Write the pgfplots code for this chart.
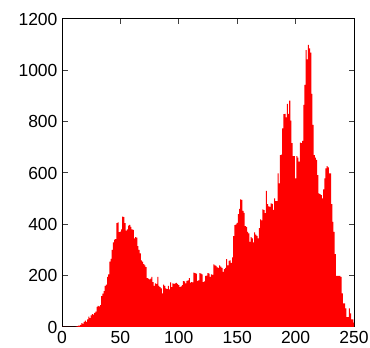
\documentclass[border=0pt]{standalone}
\usepackage{pgfplots}
\pgfplotsset{compat=1.18}
\usepackage{pgfplotstable}
\usepackage{fontspec}
\setmainfont{Liberation Sans}
\pgfplotstableread{
x y
0 0
1 0
2 0
3 0
4 0
5 0
6 0
7 0
8 0
9 0
10 0
11 0
12 1
13 2
14 5
15 5
16 8
17 15
18 12
19 20
20 25
21 20
22 30
23 40
24 35
25 45
26 50
27 48
28 55
29 60
30 78
31 82
32 80
33 85
34 120
35 130
36 140
37 160
38 165
39 195
40 205
41 255
42 265
43 300
44 330
45 340
46 342
47 405
48 408
49 370
50 372
51 380
52 430
53 428
54 405
55 375
56 380
57 395
58 398
59 390
60 380
61 378
62 345
63 350
64 348
65 315
66 300
67 287
68 260
69 255
70 245
71 240
72 233
73 190
74 188
75 186
76 188
77 195
78 175
79 160
80 170
81 168
82 195
83 160
84 155
85 150
86 131
87 165
88 160
89 150
90 148
91 160
92 147
93 174
94 155
95 170
96 168
97 170
98 172
99 168
100 163
101 155
102 158
103 163
104 179
105 178
106 170
107 180
108 182
109 190
110 173
111 175
112 174
113 212
114 210
115 208
116 180
117 182
118 210
119 208
120 205
121 175
122 178
123 199
124 200
125 210
126 208
127 195
128 205
129 203
130 244
131 240
132 238
133 232
134 230
135 240
136 235
137 230
138 215
139 225
140 230
141 264
142 240
143 258
144 260
145 250
146 271
147 354
148 397
149 400
150 406
151 440
152 460
153 497
154 495
155 452
156 445
157 393
158 390
159 371
160 365
161 332
162 350
163 345
164 330
165 369
166 360
167 355
168 345
169 385
170 419
171 415
172 458
173 455
174 444
175 530
176 479
177 470
178 468
179 482
180 480
181 456
182 501
183 490
184 490
185 599
186 560
187 670
188 672
189 774
190 829
191 830
192 817
193 869
194 830
195 882
196 804
197 716
198 666
199 666
200 579
201 666
202 660
203 644
204 718
205 716
206 725
207 865
208 943
209 1079
210 1043
211 1099
212 1086
213 1069
214 908
215 787
216 670
217 660
218 651
219 592
220 521
221 518
222 514
223 501
224 536
225 579
226 618
227 627
228 622
229 599
230 599
231 479
232 410
233 371
234 284
235 199
236 199
237 199
238 199
239 195
240 131
241 92
242 92
243 73
244 38
245 38
246 73
247 53
248 30
249 30
250 17
}\histdata
\begin{document}
\begin{tikzpicture}
\useasboundingbox (0,0) rectangle (370pt,348pt);
\begin{axis}[
  at={(62pt,21pt)}, anchor=south west,
  scale only axis,
  width=292pt, height=308pt,
  xmin=0, xmax=250, ymin=0, ymax=1200,
  xtick={0,50,...,250},
  ytick={0,200,...,1200},
  tick align=inside,
  major tick length=5.5pt,
  tick style={black!75, line width=1pt},
  axis line style={black, line width=1pt},
  /pgf/number format/assume math mode=true,
  /pgf/number format/1000 sep={},
  ticklabel style={font=\fontsize{17.5}{20}\selectfont},
  xticklabel style={yshift=-1pt},
  yticklabel style={xshift=-1pt},
  clip=true,
]
\addplot[ybar, bar width=0.88, fill=red, draw=none] table[x=x,y=y] {\histdata};
\end{axis}
\end{tikzpicture}
\end{document}
